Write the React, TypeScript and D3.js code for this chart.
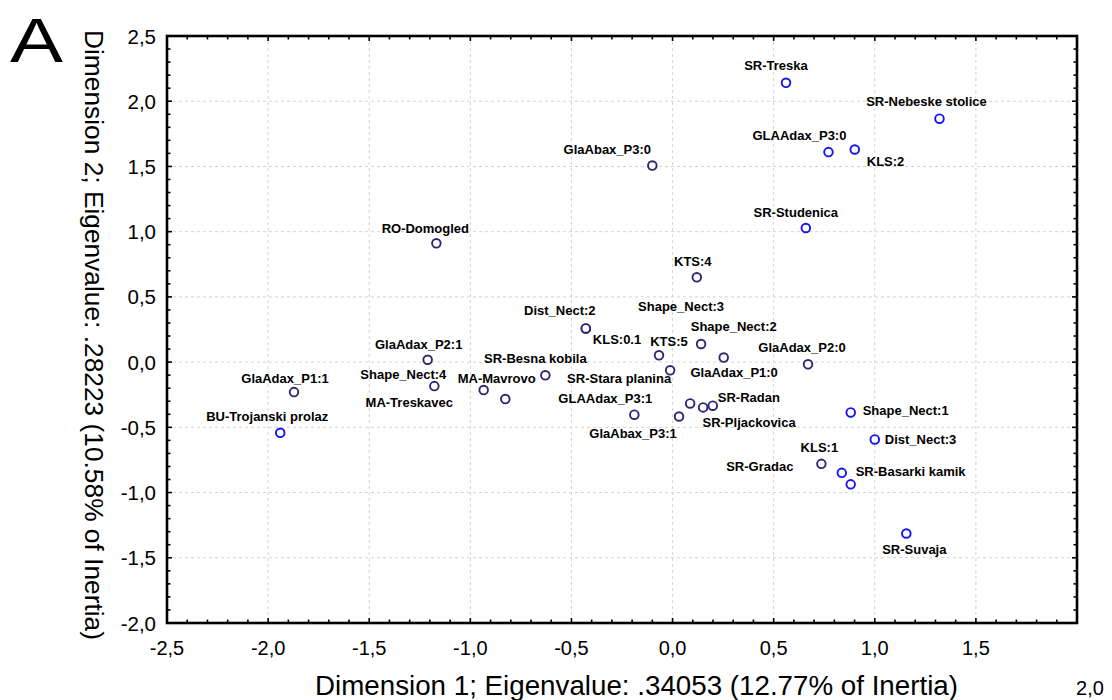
import React from "react";
import * as d3 from "d3";

// ---- Data ----
const names = [
  "SR-Treska", "SR-Nebeske stolice", "GLAAdax_P3:0", "KLS:2", "GlaAbax_P3:0",
  "SR-Studenica", "RO-Domogled", "KTS:4", "Dist_Nect:2", "KLS:0.1",
  "KTS:5", "SR-Stara planina", "Shape_Nect:3", "Shape_Nect:2", "GlaAdax_P1:0",
  "GlaAdax_P2:0", "SR-Besna kobila", "GLAAdax_P3:1", "GlaAbax_P3:1", "SR-Pljackovica",
  "SR-Radan", "Shape_Nect:1", "Dist_Nect:3", "KLS:1", "SR-Gradac",
  "SR-Basarki kamik", "SR-Suvaja", "GlaAdax_P1:1", "BU-Trojanski prolaz", "GlaAdax_P2:1",
  "Shape_Nect:4", "MA-Mavrovo", "MA-Treskavec",
];
const dim1 = [
  0.561, 1.320, 0.771, 0.901, -0.100,
  0.659, -1.168, 0.120, -0.429, -0.429,
  -0.067, -0.012, 0.141, 0.253, 0.087,
  0.670, -0.629, -0.189, 0.032, 0.151,
  0.199, 0.881, 1.000, 0.736, 0.837,
  0.881, 1.156, -1.872, -1.940, -1.211,
  -1.178, -0.934, -0.827,
];
const dim2 = [
  2.141, 1.866, 1.610, 1.630, 1.507,
  1.028, 0.911, 0.650, 0.258, 0.258,
  0.052, -0.063, 0.139, 0.035, -0.317,
  -0.017, -0.101, -0.403, -0.417, -0.347,
  -0.334, -0.386, -0.593, -0.780, -0.849,
  -0.937, -1.314, -0.230, -0.542, 0.018,
  -0.184, -0.214, -0.283,
];
// series membership: "b" = blue, "n" = navy
const series = [
  "b", "b", "b", "b", "n",
  "b", "n", "n", "n", "n",
  "n", "n", "n", "n", "n",
  "n", "n", "n", "n", "n",
  "n", "b", "b", "n", "b",
  "b", "b", "n", "b", "n",
  "n", "n", "n",
];
const xTickValues = [-2.5, -2.0, -1.5, -1.0, -0.5, 0.0, 0.5, 1.0, 1.5, 2.0];
const yTickValues = [-2.0, -1.5, -1.0, -0.5, 0.0, 0.5, 1.0, 1.5, 2.0, 2.5];
const xTitle = "Dimension 1; Eigenvalue: .34053 (12.77% of Inertia)";
const yTitle = "Dimension 2; Eigenvalue: .28223 (10.58% of Inertia)";
const panelLetter = "A";

// ---- Layout (label placement relative to each point, in px) ----
const labelLayout: [string, number, number][] = [
  ["middle", -10, -17], ["middle", -13, -17], ["middle", -29, -17], ["start", 12, 12], ["middle", -45, -16],
  ["middle", -10, -16], ["middle", -11, -15], ["middle", -4, -16], ["middle", -26, -18], ["start", 7, 11],
  ["middle", 10, -14], ["middle", -51, 8], ["middle", -20, -37], ["middle", 10, -31], ["middle", 44, -31],
  ["middle", -6, -17], ["middle", -10, -17], ["middle", -29, -16], ["middle", -46, 17], ["middle", 46, 15],
  ["start", 5, -8], ["start", 12, -2], ["start", 10, 0], ["middle", -2, -16], ["middle", -82, -6],
  ["start", 5, -13], ["middle", 8, 16], ["middle", -9, -14], ["middle", -13, -16], ["middle", -9, -15],
  ["middle", -31, -12], ["middle", 13, -12], ["middle", -96, 3],
];

const W = 1112;
const H = 700;
const L = 167, R = 1077, T = 36, B = 623;
const colors: Record<string, string> = { b: "#1414f0", n: "#2e2675" };
const fmt = (v: number) => v.toFixed(1).replace(".", ",");

export default function App() {
  const x = d3.scaleLinear().domain([-2.5, 2.0]).range([L, R]);
  const y = d3.scaleLinear().domain([-2.0, 2.5]).range([B, T]);
  const minorX = d3.range(-25, 21).map((i) => i / 10);
  const minorY = d3.range(-20, 26).map((i) => i / 10);
  const isMajor = (v: number) => Math.abs(v * 2 - Math.round(v * 2)) < 1e-6;
  const font = "'Liberation Sans', Arial, sans-serif";

  return (
    <div style={{ position: "absolute", left: 0, top: 0 }}>
      <svg width={W} height={H} viewBox={`0 0 ${W} ${H}`} style={{ display: "block", background: "#fff" }}>
        {/* grid */}
        <g stroke="#d4d4d4" strokeWidth={1} strokeDasharray="3,3">
          {xTickValues.filter((v) => v > -2.5 && v < 2.0).map((v) => (
            <line key={"gx" + v} x1={x(v)} x2={x(v)} y1={T} y2={B} />
          ))}
          {yTickValues.filter((v) => v > -2.0 && v < 2.5).map((v) => (
            <line key={"gy" + v} x1={L} x2={R} y1={y(v)} y2={y(v)} />
          ))}
        </g>
        {/* ticks (inward) */}
        <g stroke="#000" strokeWidth={1.6}>
          {minorX.map((v) => {
            const len = isMajor(v) ? 5 : 3.5;
            return (
              <g key={"tx" + v}>
                <line x1={x(v)} x2={x(v)} y1={B} y2={B - len} />
                <line x1={x(v)} x2={x(v)} y1={T} y2={T + len} />
              </g>
            );
          })}
          {minorY.map((v) => {
            const len = isMajor(v) ? 5 : 3.5;
            return (
              <g key={"ty" + v}>
                <line x1={L} x2={L + len} y1={y(v)} y2={y(v)} />
                <line x1={R} x2={R - len} y1={y(v)} y2={y(v)} />
              </g>
            );
          })}
        </g>
        {/* frame */}
        <rect x={L} y={T} width={R - L} height={B - T} fill="none" stroke="#000" strokeWidth={2.6} />

        {/* y tick labels */}
        <g fontFamily={font} fontSize={20.5} fill="#000">
          {yTickValues.map((v) => (
            <text key={"yl" + v} x={156} y={y(v)} textAnchor="end" dominantBaseline="central">
              {fmt(v)}
            </text>
          ))}
        </g>
        {/* x tick labels */}
        <g fontFamily={font} fontSize={20} fill="#000">
          {xTickValues.filter((v) => v < 2.0).map((v) => (
            <text key={"xl" + v} x={x(v)} y={648} textAnchor="middle" dominantBaseline="central">
              {fmt(v)}
            </text>
          ))}
          <text x={1090} y={688} textAnchor="middle" dominantBaseline="central">
            {fmt(xTickValues[xTickValues.length - 1])}
          </text>
        </g>

        {/* axis titles */}
        <text x={315} y={695} fontFamily={font} fontSize={27} textLength={643} lengthAdjust="spacingAndGlyphs" fill="#000">
          {xTitle}
        </text>
        <text
          transform={`translate(85, 30) rotate(90)`}
          fontFamily={font}
          fontSize={26}
          textLength={610}
          lengthAdjust="spacingAndGlyphs"
          fill="#000"
        >
          {yTitle}
        </text>
        <text x={10} y={62} fontFamily={font} fontSize={63} textLength={53} lengthAdjust="spacingAndGlyphs" fill="#000">
          {panelLetter}
        </text>

        {/* points */}
        <g>
          {names.map((n, i) => (
            <circle
              key={"p" + i}
              cx={x(dim1[i])}
              cy={y(dim2[i])}
              r={4.3}
              fill="#fff"
              stroke={colors[series[i]]}
              strokeWidth={1.9}
            />
          ))}
        </g>
        {/* labels */}
        <g fontFamily={font} fontSize={13} fontWeight="bold" fill="#000">
          {names.map((n, i) => {
            const [anchor, dx, dy] = labelLayout[i];
            return (
              <text
                key={"l" + i}
                x={x(dim1[i]) + dx}
                y={y(dim2[i]) + dy}
                textAnchor={anchor as any}
                dominantBaseline="central"
              >
                {n}
              </text>
            );
          })}
        </g>
      </svg>
    </div>
  );
}
